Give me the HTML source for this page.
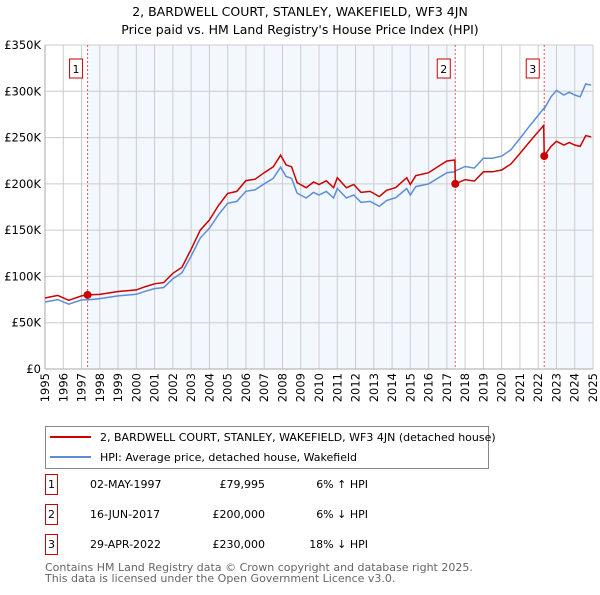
<!DOCTYPE html>
<html><head><meta charset="utf-8"><style>
body{margin:0;background:#fff;font-family:"Liberation Sans","DejaVu Sans",sans-serif;}
svg text{font-family:"DejaVu Sans","Liberation Sans",sans-serif;}
</style></head><body>
<svg id="c" width="600" height="590" xmlns="http://www.w3.org/2000/svg">
<text x="300" y="16" text-anchor="middle" font-size="12.5">2, BARDWELL COURT, STANLEY, WAKEFIELD, WF3 4JN</text>
<text x="300" y="34" text-anchor="middle" font-size="12.5">Price paid vs. HM Land Registry's House Price Index (HPI)</text>
<g id="plot"></g>
<g>
<rect x="45.5" y="426.5" width="443" height="42" fill="#fff" stroke="#888"/>
<line x1="50" y1="437" x2="91" y2="437" stroke="#cc0000" stroke-width="2"/>
<text x="100" y="441" font-size="11">2, BARDWELL COURT, STANLEY, WAKEFIELD, WF3 4JN (detached house)</text>
<line x1="50" y1="457" x2="91" y2="457" stroke="#5b8ed6" stroke-width="2"/>
<text x="100" y="461" font-size="11">HPI: Average price, detached house, Wakefield</text>
</g>
<g id="table" font-size="11"></g>
<text x="45" y="571" font-size="11" fill="#666">Contains HM Land Registry data © Crown copyright and database right 2025.</text>
<text x="45" y="582" font-size="11" fill="#666">This data is licensed under the Open Government Licence v3.0.</text>
</svg>
<script>
const hpiDates=[1995.0,1995.7,1996.3,1997.0,1997.33,1998.0,1999.0,2000.0,2000.5,2001.0,2001.5,2002.0,2002.5,2003.0,2003.5,2004.0,2004.5,2005.0,2005.5,2006.0,2006.5,2007.0,2007.5,2007.9,2008.2,2008.5,2008.8,2009.3,2009.7,2010.0,2010.4,2010.8,2011.0,2011.5,2011.9,2012.3,2012.8,2013.3,2013.7,2014.2,2014.8,2015.0,2015.3,2016.0,2016.5,2017.0,2017.44,2017.46,2018.0,2018.5,2019.0,2019.5,2020.0,2020.5,2021.0,2021.5,2022.0,2022.3,2022.33,2022.7,2023.0,2023.4,2023.7,2024.0,2024.3,2024.6,2024.9];
const hpiValues=[72.4,75,70,74.6,74.6,76,79,80.7,84,86.8,88,97.5,104,122,141.6,152,166.7,179,181,192,193.6,200,206,218,208,206,190,184.7,190.8,188,191.8,184.7,195,184.7,188,180,181,175.7,182,185,195,188,197,200,206,212,213,213.9,218.8,217,227.7,227.7,230,236.7,249,261.8,274,281.5,281,294,301,296,299,296,294,308,306.6];
const propValues=[76.7,79.5,74.2,79,80,80.6,83.7,85.5,89,92,93.3,103.4,110,129.3,150,161,176.7,189.7,191.9,203.5,205,212,218.4,231,220.5,218.4,201.4,195.8,202,199.3,203.3,195.8,206.7,195.8,199.3,190.8,191.9,186.2,193,196,206.7,199.3,208.8,212,218.4,224.7,225.8,200,204.6,203,213,213,215,221.3,232.8,244.8,256.2,263,230,240.5,246,242,244.6,242,240.5,252,250.8];
const saleDates=[1997.33,2017.46,2022.33];
const saleValues=[79.995,200,230];
const saleLabels=["1","2","3"];
const saleDateText=["02-MAY-1997","16-JUN-2017","29-APR-2022"];
const salePriceText=["£79,995","£200,000","£230,000"];
const saleHpiText=["6% ↑ HPI","6% ↓ HPI","18% ↓ HPI"];
const yTicks=[0,50,100,150,200,250,300,350];
const yTickLabels=["£0","£50K","£100K","£150K","£200K","£250K","£300K","£350K"];
const xYears=[1995,1996,1997,1998,1999,2000,2001,2002,2003,2004,2005,2006,2007,2008,2009,2010,2011,2012,2013,2014,2015,2016,2017,2018,2019,2020,2021,2022,2023,2024,2025];

const NS="http://www.w3.org/2000/svg";
const L=45,R=593,T=45,B=369;
const xs=d=>L+(d-1995)/30*(R-L);
const ys=v=>B-v/350*(B-T);
const plot=document.getElementById('plot');
function mk(tag,attrs,parent){const e=document.createElementNS(NS,tag);for(const k in attrs)e.setAttribute(k,attrs[k]);(parent||plot).appendChild(e);return e;}

let e=mk('rect',{x:xs(saleDates[0]),y:T,width:xs(saleDates[1])-xs(saleDates[0]),height:B-T,fill:'#f3f7fe'});


e=mk('rect',{x:xs(saleDates[2]),y:T,width:R-xs(saleDates[2]),height:B-T,fill:'#f3f7fe'});


yTicks.forEach((v,i)=>{
  let g=mk('line',{x1:L,x2:R,y1:ys(v),y2:ys(v),stroke:'#ccc'});
  
  
  let t=mk('text',{x:L-4,y:ys(v)+4,'text-anchor':'end','font-size':'11.5'});
  t.textContent=yTickLabels[i];
  
  
});
xYears.forEach(y=>{
  let g=mk('line',{x1:xs(y),x2:xs(y),y1:T,y2:B,stroke:'#ccc'});
  
  
  let t=mk('text',{x:0,y:0,'text-anchor':'end','font-size':'11.5',transform:`translate(${xs(y)+4},${B+4}) rotate(-90)`});
  t.textContent=y;
  
  
});
e=mk('line',{x1:L,x2:L,y1:T,y2:B,stroke:'#aaa'});


e=mk('line',{x1:L,x2:R,y1:B,y2:B,stroke:'#aaa'});


saleDates.forEach((d,i)=>{
  let l=mk('line',{x1:xs(d),x2:xs(d),y1:T,y2:B,stroke:'#ee5555','stroke-dasharray':'2,2'});
  
  
  let r=mk('rect',{x:xs(d)-18,y:59,width:13,height:19,fill:'#fff',stroke:'#cc0000'});
  
  
  let t=mk('text',{x:xs(d)-11.5,y:73,'text-anchor':'middle','font-size':'11'});
  t.textContent=saleLabels[i];
  
  
});
const path=v=>hpiDates.map((d,i)=>(i?'L':'M')+xs(d).toFixed(1)+','+ys(v[i]).toFixed(1)).join('');
e=mk('path',{d:path(hpiValues),fill:'none',stroke:'#5b8ed6','stroke-width':1.5});


e=mk('path',{d:path(propValues),fill:'none',stroke:'#cc0000','stroke-width':1.5});


saleDates.forEach((d,i)=>{
  let c=mk('circle',{cx:xs(d),cy:ys(saleValues[i]),r:4,fill:'#cc0000'});
  
  
});
const tb=document.getElementById('table');
saleLabels.forEach((s,i)=>{
  const y=483+i*30;
  let r=mk('rect',{x:45.5,y:y-8.5,width:12,height:20,fill:'#fff',stroke:'#cc0000'},tb);
  
  
  const cells=[[51.5,s,'middle','row-number'],[90,saleDateText[i],'start','row-date'],[265,salePriceText[i],'end','row-price'],[368,saleHpiText[i],'end','row-hpi-change']];
  cells.forEach(c=>{
    let t=mk('text',{x:c[0],y:y+5,'text-anchor':c[2]},tb);
    t.textContent=c[1];
    
    
  });
});
</script>
</body></html>
